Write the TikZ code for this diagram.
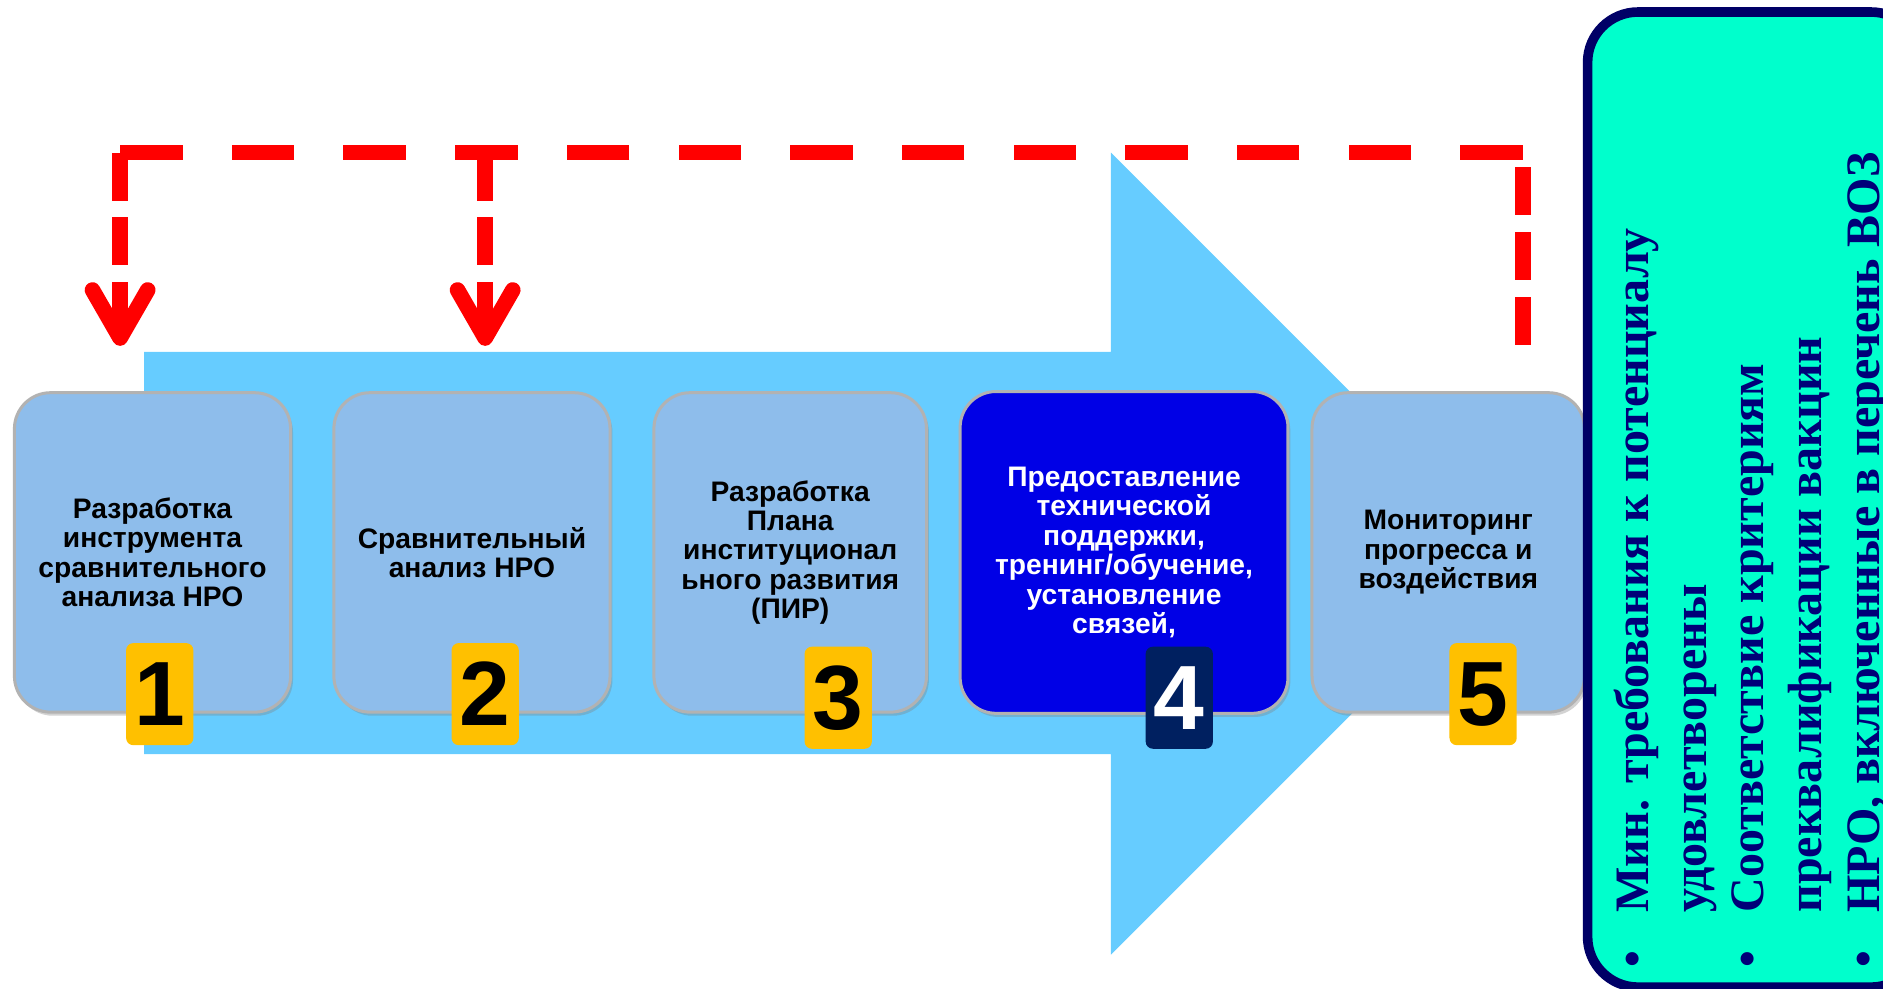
\documentclass[tikz,border=0pt]{standalone}
\usepackage{fontspec}
\setmainfont{Liberation Serif}
\newfontfamily\arialfont{Liberation Sans}
\usetikzlibrary{positioning,arrows.meta,shadows}

\definecolor{arrowblue}{RGB}{102,204,255}
\definecolor{stageblue}{RGB}{142,189,235}
\definecolor{stagedark}{RGB}{0,0,230}
\definecolor{badgeyellow}{RGB}{255,192,0}
\definecolor{badgenavy}{RGB}{0,32,96}
\definecolor{fbred}{RGB}{255,0,0}
\definecolor{panelfill}{RGB}{0,255,204}
\definecolor{panelline}{RGB}{0,0,102}
\definecolor{paneltextcol}{RGB}{0,0,120}

\newcommand{\stagefont}{\arialfont\bfseries\fontsize{23.5}{24.5}\selectfont}
\newcommand{\badgefont}{\arialfont\bfseries\fontsize{76}{76}\selectfont}
\newcommand{\panelfont}{\bfseries\fontsize{40}{48}\selectfont}

\tikzset{
  stage/.style={draw=gray!60, line width=2.5pt, fill=stageblue, rounded corners=30pt,
    minimum width=230pt, minimum height=266pt, inner sep=0pt, align=center, font=\stagefont,
    drop shadow={opacity=0.35, shadow xshift=2pt, shadow yshift=-3pt}},
  badge/.style={fill=badgeyellow, rounded corners=6pt, minimum width=56pt, minimum height=85pt,
    inner sep=0pt, font=\badgefont},
  feedback/.style={draw=fbred, line width=13pt},
  fbtip/.style={-{Straight Barb[round, length=40pt, width=46pt]}},
  paneltext/.style={rotate=90, inner sep=0pt, align=left, text=paneltextcol, font=\panelfont}
}

\begin{document}
\begin{tikzpicture}[x=1pt, y=-1pt]
    \useasboundingbox (0,0) rectangle (1568,823);
    \clip (0,0) rectangle (1568,823);

    % Большая стрелка процесса
    \fill[arrowblue] (120,293) -- (925,293) -- (925,127) -- (1259,461)
        -- (925,795) -- (925,628) -- (120,628) -- cycle;

    % Этапы
    \node[stage] (b1) at (127,460) {Разработка\\инструмента\\сравнительного\\анализа НРО};
    \node[stage, right=33.5pt of b1] (b2) {Сравнительный\\анализ НРО};
    \node[stage, right=34pt of b2, minimum width=227pt] (b3) {Разработка\\Плана\\институционал\\ьного развития\\(ПИР)};
    \node[stage, right=25.5pt of b3, minimum width=273pt, minimum height=268pt, fill=stagedark,
        text=white] (b4) {Предоставление\\технической\\поддержки,\\тренинг/обучение,\\установление\\связей,};
    \node[stage, right=17.5pt of b4, minimum width=227pt] (b5) {Мониторинг\\прогресса и\\воздействия};

    % Номера этапов
    \node[badge] (n1) at (133,578) {1};
    \node[badge] (n2) at (404,578) {2};
    \node[badge] (n3) at (698,581) {3};
    \node[badge, fill=badgenavy, text=white] (n4) at (982,581) {4};
    \node[badge] (n5) at (1235,578) {5};

    % Обратная связь
    \coordinate (fb5) at (1268,287);
    \coordinate (cornerR) at (1268,127);
    \coordinate (cornerL) at (100,127);
    \coordinate (split2) at (404,127);
    \coordinate (tip1) at (100,288);
    \coordinate (tip2) at (404,288);

    \draw[feedback, dash pattern=on 40pt off 14pt] (fb5) -- (cornerR);
    \draw[feedback, dash pattern=on 52pt off 41pt] (cornerR) -- (cornerL);
    \draw[feedback, fbtip, dash pattern=on 40pt off 14pt] (cornerL) -- (tip1);
    \draw[feedback, fbtip, dash pattern=on 40pt off 14pt] (split2) -- (tip2);

    % Критерии
    \draw[fill=panelfill, draw=panelline, line width=8pt, rounded corners=42pt]
        (1322,10) rectangle (1600,822);
    \node[paneltext, anchor=north west] (crit) at (1344,760) {%
        \llap{•\hspace{32pt}}Мин. требования к потенциалу\\
        удовлетворены\\
        \llap{•\hspace{32pt}}Соответствие критериям\\
        преквалификации вакцин\\
        \llap{•\hspace{32pt}}НРО, включенные в перечень ВОЗ};
\end{tikzpicture}
\end{document}
